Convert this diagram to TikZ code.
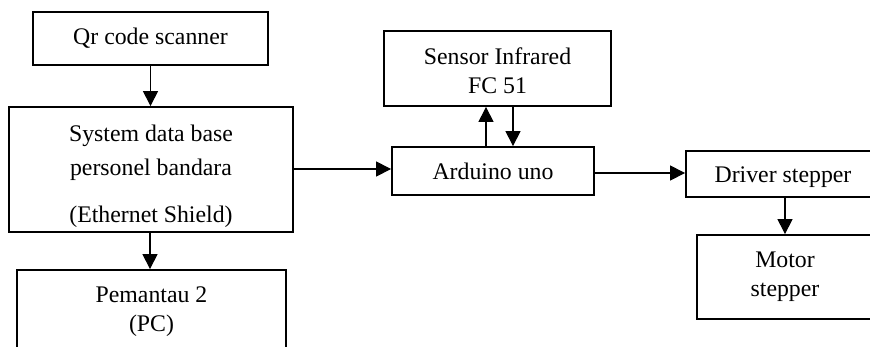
\documentclass[tikz,border=0pt]{standalone}
\usepackage{fontspec}
\setmainfont{Liberation Serif}
\usetikzlibrary{arrows.meta}
\begin{document}
\begin{tikzpicture}[x=1pt,y=-1pt,
  box/.style={draw,line width=1.8pt,inner sep=0pt,align=center},
  arr/.style={line width=1.1pt,-{Triangle[length=15pt,width=15pt]}}]
\useasboundingbox (0,0) rectangle (870,346);
\clip (0,0) rectangle (870,346);
\node[box,minimum width=235pt,minimum height=53pt,font=\fontsize{23.8}{30}\selectfont] (qr) at (150.5,38.5) {Qr code scanner};
\node[box,minimum width=284pt,minimum height=125pt,font=\fontsize{23.8}{34}\selectfont] (sys) at (151,169.5) {\rule{0pt}{29.3pt}System data base\\personel bandara\\[13pt](Ethernet Shield)};
\node[box,minimum width=269pt,minimum height=83pt,font=\fontsize{23.8}{29}\selectfont] (pem) at (151.5,311.5) {Pemantau 2\\(PC)};
\node[box,minimum width=227pt,minimum height=75pt,font=\fontsize{23.8}{29}\selectfont] (sen) at (497.5,68.5) {\rule{0pt}{20.3pt}Sensor Infrared\\FC 51};
\node[box,minimum width=202pt,minimum height=48pt,font=\fontsize{23.8}{29}\selectfont] (ard) at (493,171) {Arduino uno};
\node[box,minimum width=194pt,minimum height=46pt,font=\fontsize{23.8}{29}\selectfont] (drv) at (783,174) {\rule{0pt}{22.3pt}Driver stepper};
\node[box,minimum width=176pt,minimum height=84pt,font=\fontsize{23.8}{29}\selectfont] (mot) at (785,277) {Motor\\stepper};
\draw[arr] (qr.south) -- (qr.south |- sys.north);
\draw[arr] ([xshift=-1pt]sys.south) -- ([xshift=-1pt]sys.south |- pem.north);
\draw[arr] (sys.east |- 0,169) -- (ard.west |- 0,169);
\draw[arr] ([xshift=-7pt]ard.north) -- ([xshift=-7pt]ard.north |- sen.south);
\draw[arr] ([xshift=20pt]ard.north |- sen.south) -- ([xshift=20pt]ard.north);
\draw[arr] (ard.east |- 0,173) -- (drv.west |- 0,173);
\draw[arr] ([xshift=2pt]drv.south) -- ([xshift=2pt]drv.south |- mot.north);
\end{tikzpicture}
\end{document}
